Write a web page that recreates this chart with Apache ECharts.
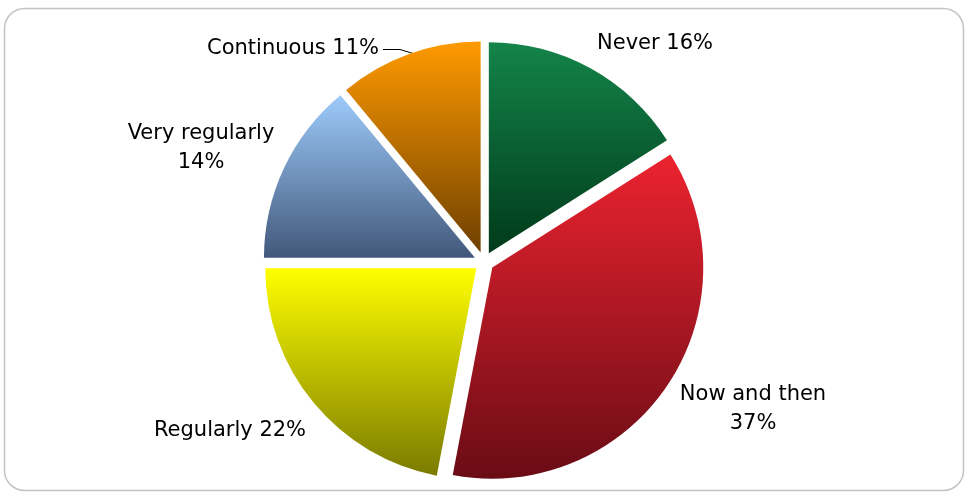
<!DOCTYPE html>
<html><head><meta charset="utf-8">
<script src="https://cdn.jsdelivr.net/npm/echarts/dist/echarts.min.js"></script>
<style>html,body{margin:0;padding:0;background:#fff}#c{width:966px;height:493px}</style>
</head><body><div id="c"></div>
<script>
// ---- data ----
const categories = ['Never', 'Now and then', 'Regularly', 'Very regularly', 'Continuous'];
const values = [16, 37, 22, 14, 11];

// ---- styles ----
const colorsTop = ['#14844a', '#ec2330', '#ffff00', '#9dcbfb', '#ff9a00'];
const colorsBottom = ['#003a1a', '#6a0c15', '#7a7a00', '#42587a', '#6e4000'];
const twoLine = [false, true, false, true, false];
const labelPlace = [
  { x: 655, y: 44, align: 'center' },
  { x: 753, y: 409, align: 'center' },
  { x: 230, y: 431, align: 'center' },
  { x: 201, y: 148, align: 'center' },
  { x: 379, y: 49, align: 'right' }
];
const leaderPoints = [[383, 49.5], [400, 49.5], [413, 53.5]];

const chart = echarts.init(document.getElementById('c'), null, { renderer: 'canvas' });

const seriesData = categories.map((name, i) => ({
  name: name,
  value: values[i],
  selected: true,
  itemStyle: {
    color: new echarts.graphic.LinearGradient(0, 0, 0, 1, [
      { offset: 0, color: colorsTop[i] },
      { offset: 1, color: colorsBottom[i] }
    ])
  }
}));

const labelText = (i) => twoLine[i]
  ? categories[i] + '\n' + values[i] + '%'
  : categories[i] + ' ' + values[i] + '%';

const labelGraphics = categories.map((name, i) => ({
  type: 'text',
  silent: true,
  style: {
    text: labelText(i),
    x: labelPlace[i].x,
    y: labelPlace[i].y,
    align: labelPlace[i].align,
    verticalAlign: 'middle',
    font: '21px "DejaVu Sans"',
    lineHeight: 29,
    fill: '#000000'
  }
}));

chart.setOption({
  animation: false,
  backgroundColor: '#ffffff',
  graphic: [{
    type: 'rect',
    shape: { x: 4.5, y: 8.5, width: 959, height: 482, r: 20 },
    style: { fill: 'none', stroke: '#c4c4c4', lineWidth: 1.5 },
    silent: true
  }, {
    type: 'polyline',
    shape: { points: leaderPoints },
    style: { fill: 'none', stroke: '#000000', lineWidth: 1 },
    silent: true
  }].concat(labelGraphics),
  series: [{
    type: 'pie',
    center: [484, 262],
    radius: [0, 211],
    startAngle: 90,
    clockwise: true,
    selectedMode: 'multiple',
    selectedOffset: 10,
    emphasis: { disabled: true },
    itemStyle: { borderWidth: 0 },
    label: { show: false },
    labelLine: { show: false },
    data: seriesData
  }]
});
</script>
</body></html>
